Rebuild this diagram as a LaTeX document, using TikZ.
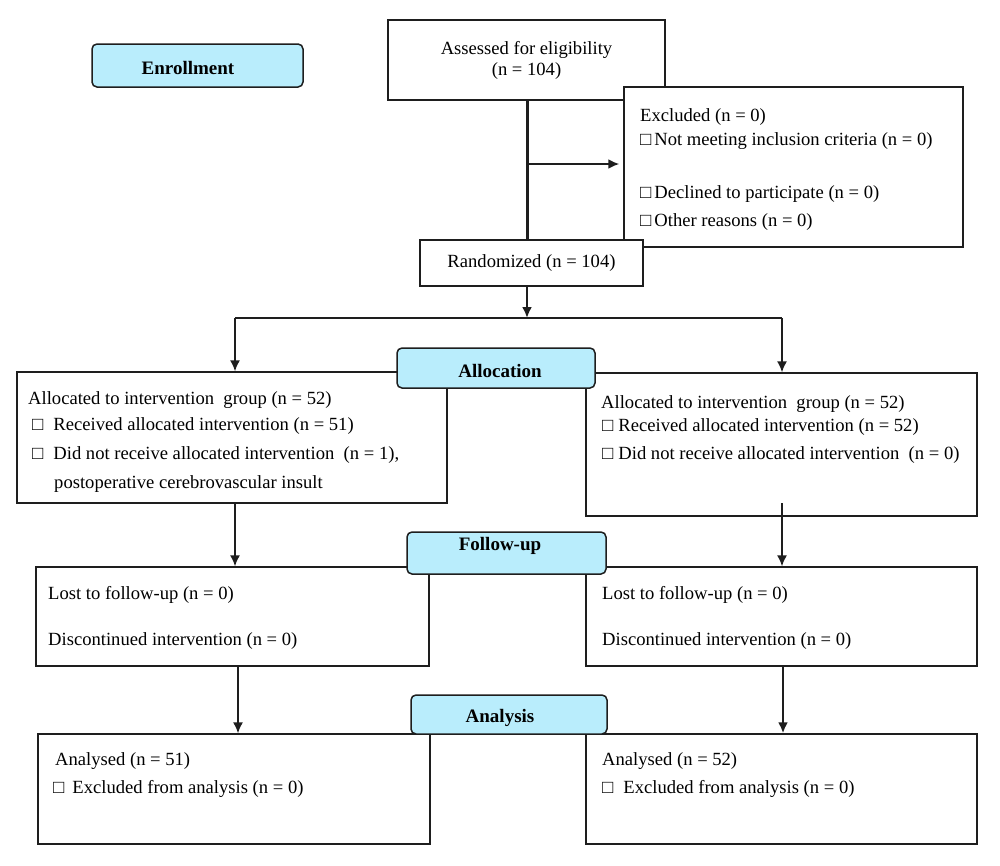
\documentclass[tikz,border=0pt]{standalone}
\usepackage{fontspec}
\setmainfont{Liberation Serif}
\usetikzlibrary{arrows.meta}
\definecolor{lblue}{HTML}{B9EDFC}
\definecolor{ink}{HTML}{1E1E1E}
\newcommand\fs{\fontsize{18.6}{21}\selectfont}
\newcommand\fb{\fontsize{19}{22}\selectfont\bfseries}
\newcommand\cb{□}
\begin{document}
\begin{tikzpicture}[x=1pt,y=-1pt,
  box/.style={draw=ink, line width=1.4pt, fill=white, inner sep=0pt, font=\fs, align=center},
  lbl/.style={draw=ink, line width=1.5pt, fill=lblue, rounded corners=5pt, inner sep=0pt},
  txt/.style={anchor=west, inner sep=0pt, font=\fs, text=black, yshift=-2pt},
  ttl/.style={inner sep=0pt, font=\fb, text=black},
  conn/.style={draw=ink, line width=1.6pt},
  arr/.style={conn, -{Latex[length=11pt,width=10pt]}}]
\fill[white] (0,0) rectangle (1000,865);
\useasboundingbox (0,0) rectangle (1000,865);

% enrollment
\node[lbl, minimum width=211pt, minimum height=43pt] (enroll) at (197.5,65.5) {};
\node[ttl] (enrollt) at (188,68) {Enrollment};

% assessed / excluded / randomized
\node[box, minimum width=277pt, minimum height=80pt] (assess) at (526.5,60) {Assessed for eligibility\\(n = 104)};
\node[box, minimum width=339pt, minimum height=160pt] (excl) at (793.5,167) {};
\node[box, minimum width=223pt, minimum height=46pt] (rand) at (531.5,263) {Randomized (n = 104)};

\node[txt] (ex1) at (640,115) {Excluded (n = 0)};
\node[txt] (ex2) at (640,139) {\cb\hspace{3pt}Not meeting inclusion criteria (n = 0)};
\node[txt] (ex3) at (640,192) {\cb\hspace{3pt}Declined to participate (n = 0)};
\node[txt] (ex4) at (640,220) {\cb\hspace{3pt}Other reasons (n = 0)};

% allocation
\node[box, minimum width=430pt, minimum height=131pt] (allocL) at (232,437.5) {};
\node[box, minimum width=391pt, minimum height=143pt] (allocR) at (781.5,444.5) {};
\node[lbl, minimum width=198pt, minimum height=40pt] (allocT) at (496,368) {};
\node[ttl] (allocTt) at (500,371) {Allocation};

\node[txt] (al1) at (28,398) {Allocated to intervention~ group (n = 52)};
\node[txt] (al2) at (32,424) {\cb\hspace{10pt}Received allocated intervention (n = 51)};
\node[txt] (al3) at (32,453) {\cb\hspace{10pt}Did not receive allocated intervention~ (n = 1),};
\node[txt] (al4) at (54,482) {postoperative cerebrovascular insult};

\node[txt] (ar1) at (601,402) {Allocated to intervention~ group (n = 52)};
\node[txt] (ar2) at (602,425) {\cb\hspace{5pt}Received allocated intervention (n = 52)};
\node[txt] (ar3) at (602,453) {\cb\hspace{5pt}Did not receive allocated intervention~ (n = 0)};

% follow-up
\node[box, minimum width=393pt, minimum height=99pt] (fuL) at (232.5,616.5) {};
\node[box, minimum width=391pt, minimum height=99pt] (fuR) at (781.5,616.5) {};
\node[lbl, minimum width=199pt, minimum height=42pt] (fuT) at (506.5,553) {};
\node[ttl] (fuTt) at (500,546) {Follow-up};

\node[txt] (fl1) at (48,593) {Lost to follow-up (n = 0)};
\node[txt] (fl2) at (48,639) {Discontinued intervention (n = 0)};
\node[txt] (fr1) at (602,593) {Lost to follow-up (n = 0)};
\node[txt] (fr2) at (602,639) {Discontinued intervention (n = 0)};

% analysis
\node[box, minimum width=392pt, minimum height=110pt] (anL) at (234,789) {};
\node[box, minimum width=391pt, minimum height=110pt] (anR) at (781.5,789) {};
\node[lbl, minimum width=196pt, minimum height=39pt] (anT) at (509,714.5) {};
\node[ttl] (anTt) at (500,718) {Analysis};

\node[txt] (nl1) at (55,759) {Analysed (n = 51)};
\node[txt] (nl2) at (53,787) {\cb\hspace{8pt}Excluded from analysis (n = 0)};
\node[txt] (nr1) at (602,759) {Analysed (n = 52)};
\node[txt] (nr2) at (602,787) {\cb\hspace{10pt}Excluded from analysis (n = 0)};

% connectors
\coordinate (br) at (527,164);
\coordinate (j) at (527,318);
\coordinate (jl) at (235,318);
\coordinate (jr) at (782,318);
\coordinate (rs) at (782,503);
\coordinate (ls) at (238,666);
\coordinate (rs2) at (783,666);

\draw[conn, line width=3pt] (assess.south -| br) -- (rand.north -| br);
\draw[arr, line width=2pt] (br) -- ([xshift=-4pt]excl.west |- br);
\draw[arr, line width=2.4pt] (rand.south -| j) -- (j);
\draw[conn, line width=2pt] (jl) -- (jr);
\draw[arr] (jl) -- (jl |- allocL.north);
\draw[arr] (jr) -- (jr |- allocR.north);
\draw[arr] (jl |- allocL.south) -- (jl |- fuL.north);
\draw[arr] (rs) -- (rs |- fuR.north);
\draw[arr] (ls |- fuL.south) -- (ls |- anL.north);
\draw[arr, line width=2.2pt] (rs2 |- fuR.south) -- (rs2 |- anR.north);
\end{tikzpicture}
\end{document}
